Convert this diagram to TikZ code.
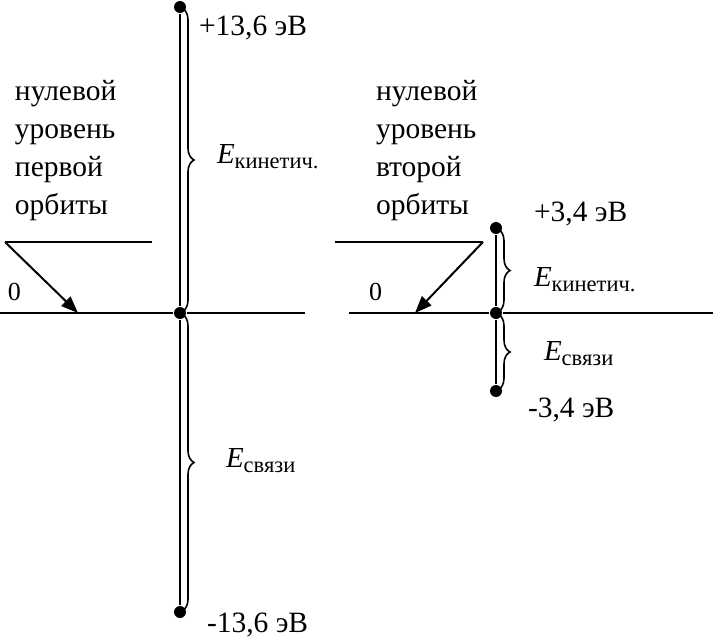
\documentclass[tikz,border=0pt]{standalone}
\usepackage{fontspec}
\setmainfont{Liberation Serif}
\usetikzlibrary{arrows.meta,decorations.pathreplacing}
\newcommand{\Elabel}[1]{\fontsize{29}{32}\selectfont\textit{E}\raisebox{-5pt}{\fontsize{22.5}{24}\selectfont #1}}
\begin{document}
\begin{tikzpicture}[x=1pt,y=-1pt,line width=2pt,
  dot/.style={circle,fill=black,inner sep=0pt,minimum size=12pt},
  lbl/.style={anchor=base west,inner sep=0pt,font=\fontsize{29.5}{32}\selectfont},
  blk/.style={anchor=base west,inner sep=0pt,font=\fontsize{29.5}{34}\selectfont},
  brc/.style={decorate,decoration={brace,amplitude=12pt,aspect=0.5},line width=1.6pt},
  arr/.style={-{Triangle[length=17pt,width=13pt]}}]
\useasboundingbox (0,0) rectangle (713,637);

% ---------- left diagram ----------
\coordinate (L0a) at (0,313);
\coordinate (L0b) at (305,313);
\coordinate (LUa) at (5,242);
\coordinate (LUb) at (152,242);
\coordinate (Ltip) at (78,313);
\node[dot] (Ltop) at (180,7) {};
\node[dot] (Lmid) at (180,313) {};
\node[dot] (Lbot) at (180,612) {};
\draw (L0a) -- (Lmid) -- (L0b);
\draw (LUb) -- (LUa);
\draw[arr] (LUa) -- (Ltip);
\draw (Ltop) -- (Lmid) -- (Lbot);
\draw[brc] (182,8) -- (182,312);
\draw[brc] (182,314) -- (182,611);

\node[blk] (l1) at (14,100) {нулевой};
\node[blk] (l2) at (14,138) {уровень};
\node[blk] (l3) at (14,176) {первой};
\node[blk] (l4) at (14,214) {орбиты};
\node[lbl,font=\fontsize{26}{28}\selectfont] (lz) at (7,300) {0};
\node[lbl] (lp) at (198,35) {+13,6 эВ};
\node[lbl] (lm) at (206,632) {-13,6 эВ};
\node[anchor=base west,inner sep=0pt] (lek) at (216,163) {\Elabel{кинетич.}};
\node[anchor=base west,inner sep=0pt] (les) at (225,467) {\Elabel{связи}};

% ---------- right diagram ----------
\coordinate (R0a) at (349,313);
\coordinate (R0b) at (713,313);
\coordinate (RUa) at (335,242);
\coordinate (RUb) at (483,242);
\coordinate (Rtip) at (415,313);
\node[dot] (Rtop) at (496,228) {};
\node[dot] (Rmid) at (496,313) {};
\node[dot] (Rbot) at (496,391) {};
\draw (R0a) -- (Rmid) -- (R0b);
\draw (RUa) -- (RUb);
\draw[arr] (RUb) -- (Rtip);
\draw (Rtop) -- (Rmid) -- (Rbot);
\draw[brc] (498,229) -- (498,312);
\draw[brc] (498,314) -- (498,390);

\node[blk] (r1) at (375,100) {нулевой};
\node[blk] (r2) at (375,138) {уровень};
\node[blk] (r3) at (375,176) {второй};
\node[blk] (r4) at (375,214) {орбиты};
\node[lbl,font=\fontsize{26}{28}\selectfont] (rz) at (368,300) {0};
\node[lbl] (rp) at (533,221) {+3,4 эВ};
\node[lbl] (rm) at (527,417) {-3,4 эВ};
\node[anchor=base west,inner sep=0pt] (rek) at (533,286) {\Elabel{кинетич.}};
\node[anchor=base west,inner sep=0pt] (res) at (543,360) {\Elabel{связи}};
\end{tikzpicture}
\end{document}
